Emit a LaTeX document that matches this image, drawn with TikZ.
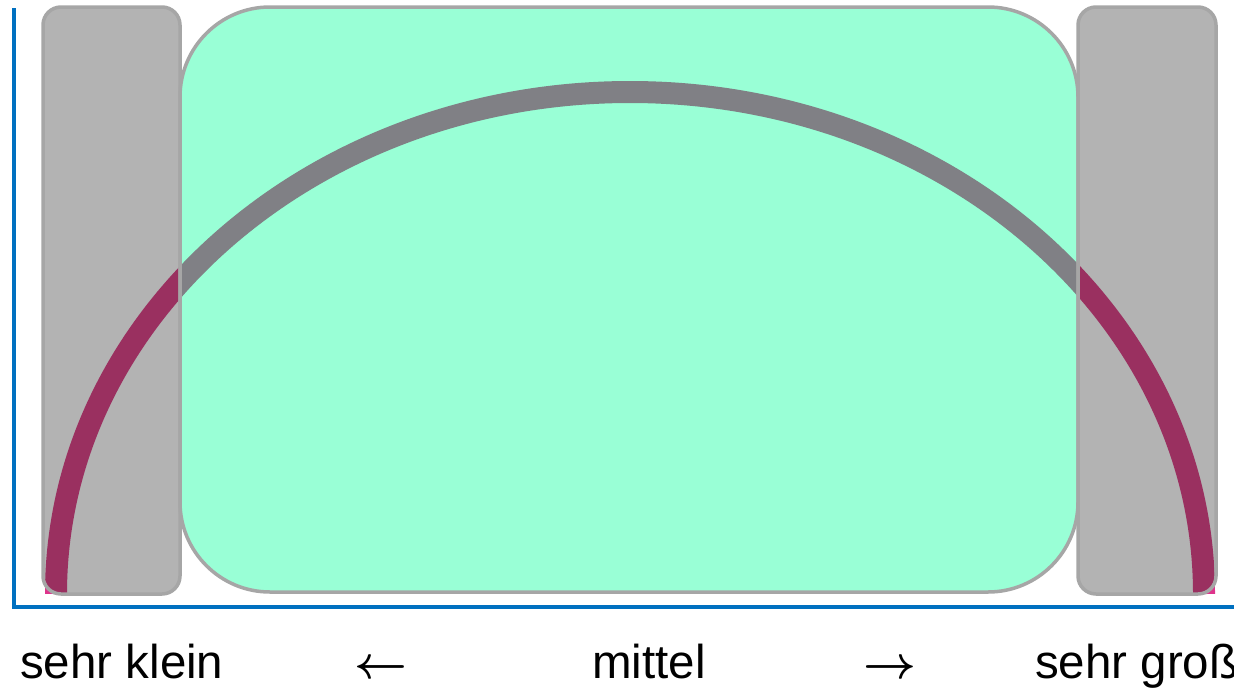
\documentclass[tikz,border=0pt]{standalone}
\usepackage{fontspec}
\usepackage{graphicx}
\setmainfont{Liberation Sans}
\definecolor{axisblue}{RGB}{0,112,192}
\definecolor{boxgray}{RGB}{179,179,179}
\definecolor{bordergray}{RGB}{166,166,166}
\definecolor{midgreen}{RGB}{153,255,214}
\definecolor{arcpink}{RGB}{222,52,140}
\definecolor{arcdark}{RGB}{154,48,96}
\definecolor{arcgray}{RGB}{128,128,133}
\tikzset{
  sidebox/.style={rounded corners=18pt},
  midbox/.style={rounded corners=90pt},
  boxline/.style={draw=bordergray,line width=3.5pt},
  bow/.style={line width=22pt},
  label/.style={font=\fontsize{47.5}{56}\selectfont,inner sep=0pt},
  axis/.style={draw=axisblue,line width=4pt}
}
\newcommand{\bowpath}{(56,594) arc[start angle=180,end angle=0,x radius=574pt,y radius=502pt]}
\newcommand{\bigarrow}[1]{\scalebox{4.6}{\fontsize{10}{12}\selectfont\boldmath$#1$}}
\begin{document}
\begin{tikzpicture}[x=1pt,y=-1pt]
\useasboundingbox (0,0) rectangle (1234,689);
\clip (0,0) rectangle (1234,689);
% axes
\coordinate (ytop) at (14,8);
\coordinate (origin) at (14,607);
\coordinate (xend) at (1240,607);
\draw[axis] (ytop) -- (origin) -- (xend);
% pink bow (base)
\draw[arcpink,bow] \bowpath;
% side boxes
\fill[boxgray,sidebox] (43,7) rectangle (180,594);
\fill[boxgray,sidebox] (1078,7) rectangle (1216,594);
\begin{scope}
  \clip[sidebox] (43,7) rectangle (180,594);
  \draw[arcdark,bow] \bowpath;
\end{scope}
\begin{scope}
  \clip[sidebox] (1078,7) rectangle (1216,594);
  \draw[arcdark,bow] \bowpath;
\end{scope}
% middle box
\fill[midgreen,midbox] (180,7) rectangle (1078,592);
\begin{scope}
  \clip[midbox] (180,7) rectangle (1078,592);
  \draw[arcgray,bow] \bowpath;
\end{scope}
% borders
\draw[boxline,sidebox] (43,7) rectangle (180,594);
\draw[boxline,sidebox] (1078,7) rectangle (1216,594);
\draw[boxline,midbox] (180,7) rectangle (1078,592);
% labels
\node[label,anchor=base west] (klein) at (20,678) {sehr klein};
\node[label,anchor=base] (larrow) at (381,678) {\bigarrow{\leftarrow}};
\node[label,anchor=base] (mittel) at (649,678) {mittel};
\node[label,anchor=base] (rarrow) at (890,678) {\bigarrow{\rightarrow}};
\node[label,anchor=base west] (gross) at (1035,678) {sehr groß};
\end{tikzpicture}
\end{document}
